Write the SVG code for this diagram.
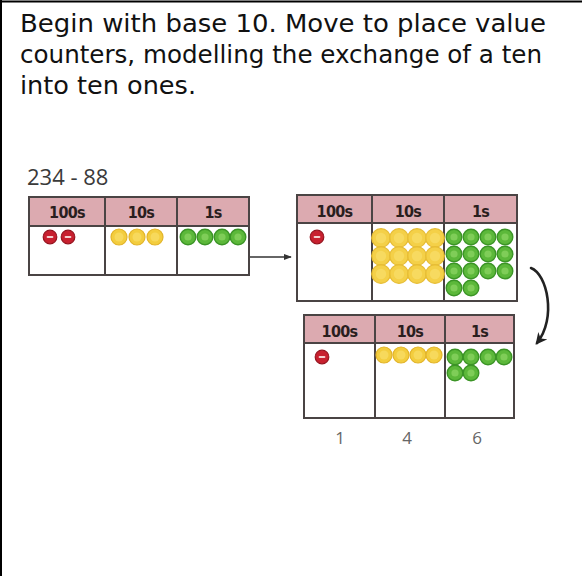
<svg xmlns="http://www.w3.org/2000/svg" xmlns:xlink="http://www.w3.org/1999/xlink" width="582" height="576" viewBox="0 0 582 576">
  <style>
    .intro { font-family: "DejaVu Sans Condensed", "DejaVu Sans", sans-serif; font-size: 25.5px; fill: #111; font-stretch: condensed; }
    .sum { font-family: "Open Sans", "Liberation Sans", sans-serif; font-size: 22px; fill: #3a3a3a; }
    .digit { font-family: "Open Sans", "Liberation Sans", sans-serif; font-size: 17px; fill: #666; text-anchor: middle; }
    .head { fill: #dcaab0; stroke: #4a4444; stroke-width: 2; }
    .body { fill: #ffffff; stroke: #4a4444; stroke-width: 2; }
    .rule { stroke: #4a4444; stroke-width: 2; fill: none; }
    .lab { font-family: "DejaVu Sans Condensed", "DejaVu Sans", sans-serif; font-weight: bold; font-size: 16px; fill: #2a1e1e; text-anchor: middle; letter-spacing: -0.7px; }
    .link { stroke: #333; stroke-width: 1.6; fill: none; }
    .swing { stroke: #222; stroke-width: 2.6; fill: none; stroke-linecap: round; }
  </style>
  <defs>
    <!-- place value counters, centred on 0,0 -->
    <g id="c-red">
      <circle r="6.8" fill="#c8202f" stroke="#961520" stroke-width="1.2"/>
      <rect x="-3.4" y="-1.1" width="6.8" height="2.2" rx="1" fill="#f4d0d0"/>
    </g>
    <g id="c-yel">
      <circle r="8" fill="#f3cd3e" stroke="#e2b42a" stroke-width="1.2"/>
      <circle r="4.5" fill="#f7d95c"/>
    </g>
    <g id="c-yelL">
      <circle r="9.3" fill="#f3cd3e" stroke="#e6bc34" stroke-width="1.2" fill-opacity="0.95"/>
      <circle r="5.2" fill="#f7da60"/>
    </g>
    <g id="c-grn">
      <circle r="7.8" fill="#5cb83a" stroke="#3b9426" stroke-width="1.4"/>
      <circle r="3.6" fill="#7fcd58"/>
    </g>
    <marker id="tip" viewBox="0 0 10 10" refX="9" refY="5" markerWidth="5" markerHeight="5" orient="auto" markerUnits="strokeWidth">
      <path d="M0,1 L10,5 L0,9 z" fill="#333"/>
    </marker>
    <marker id="tip2" viewBox="0 0 10 10" refX="8" refY="5" markerWidth="4.5" markerHeight="4.5" orient="auto" markerUnits="strokeWidth">
      <path d="M0,0 L10,5 L0,10 L3,5 z" fill="#222"/>
    </marker>
  </defs>

  <!-- frame -->
  <rect x="0" y="0" width="582" height="576" fill="#ffffff"/>
  <line x1="1" y1="0" x2="1" y2="576" stroke="#000" stroke-width="2"/>
  <line x1="0" y1="1.5" x2="582" y2="1.5" stroke="#000" stroke-width="2"/>

  <!-- intro text -->
  <g id="intro">
    <text class="intro" x="20" y="32" textLength="526" lengthAdjust="spacingAndGlyphs">Begin with base 10. Move to place value</text>
    <text class="intro" x="20" y="63" textLength="522" lengthAdjust="spacingAndGlyphs">counters, modelling the exchange of a ten</text>
    <text class="intro" x="20" y="94" textLength="176" lengthAdjust="spacingAndGlyphs">into ten ones.</text>
  </g>

  <text class="sum" x="27" y="185">234 - 88</text>

  <!-- chart 1: 234 -->
  <g id="chart-start">
    <rect class="body" x="29" y="197" width="220" height="78"/>
    <rect class="head" x="29" y="197" width="220" height="29"/>
    <line class="rule" x1="105" y1="197" x2="105" y2="275"/>
    <line class="rule" x1="177" y1="197" x2="177" y2="275"/>
    <text class="lab" x="67" y="218">100s</text>
    <text class="lab" x="141" y="218">10s</text>
    <text class="lab" x="213" y="218">1s</text>
    <use href="#c-red" x="50" y="237"/>
    <use href="#c-red" x="68" y="237"/>
    <use href="#c-yel" x="119" y="237"/>
    <use href="#c-yel" x="137" y="237"/>
    <use href="#c-yel" x="155" y="237"/>
    <use href="#c-grn" x="188" y="237"/>
    <use href="#c-grn" x="205" y="237"/>
    <use href="#c-grn" x="222" y="237"/>
    <use href="#c-grn" x="238" y="237"/>
  </g>

  <!-- chart 2: one ten exchanged for ten ones -->
  <g id="chart-exchange">
    <rect class="body" x="297" y="195" width="220" height="106"/>
    <rect class="head" x="297" y="195" width="220" height="28"/>
    <line class="rule" x1="372" y1="195" x2="372" y2="301"/>
    <line class="rule" x1="444" y1="195" x2="444" y2="301"/>
    <text class="lab" x="334.5" y="217">100s</text>
    <text class="lab" x="408" y="217">10s</text>
    <text class="lab" x="480.5" y="217">1s</text>
    <use href="#c-red" x="317" y="237"/>
    <g>
      <use href="#c-yelL" x="381" y="238"/><use href="#c-yelL" x="399" y="238"/><use href="#c-yelL" x="417" y="238"/><use href="#c-yelL" x="435" y="238"/>
      <use href="#c-yelL" x="381" y="256"/><use href="#c-yelL" x="399" y="256"/><use href="#c-yelL" x="417" y="256"/><use href="#c-yelL" x="435" y="256"/>
      <use href="#c-yelL" x="381" y="274"/><use href="#c-yelL" x="399" y="274"/><use href="#c-yelL" x="417" y="274"/><use href="#c-yelL" x="435" y="274"/>
    </g>
    <g>
      <use href="#c-grn" x="454" y="237"/><use href="#c-grn" x="471" y="237"/><use href="#c-grn" x="488" y="237"/><use href="#c-grn" x="505" y="237"/>
      <use href="#c-grn" x="454" y="254"/><use href="#c-grn" x="471" y="254"/><use href="#c-grn" x="488" y="254"/><use href="#c-grn" x="505" y="254"/>
      <use href="#c-grn" x="454" y="271"/><use href="#c-grn" x="471" y="271"/><use href="#c-grn" x="488" y="271"/><use href="#c-grn" x="505" y="271"/>
      <use href="#c-grn" x="454" y="288"/><use href="#c-grn" x="471" y="288"/>
    </g>
  </g>

  <!-- chart 3: result 146 -->
  <g id="chart-result">
    <rect class="body" x="304" y="315" width="210" height="103"/>
    <rect class="head" x="304" y="315" width="210" height="28"/>
    <line class="rule" x1="375" y1="315" x2="375" y2="418"/>
    <line class="rule" x1="445" y1="315" x2="445" y2="418"/>
    <text class="lab" x="339.5" y="337">100s</text>
    <text class="lab" x="410" y="337">10s</text>
    <text class="lab" x="479.5" y="337">1s</text>
    <use href="#c-red" x="322" y="357"/>
    <use href="#c-yel" x="384" y="355"/>
    <use href="#c-yel" x="401" y="355"/>
    <use href="#c-yel" x="418" y="355"/>
    <use href="#c-yel" x="434" y="355"/>
    <use href="#c-grn" x="455" y="357"/>
    <use href="#c-grn" x="471" y="357"/>
    <use href="#c-grn" x="488" y="357"/>
    <use href="#c-grn" x="504" y="357"/>
    <use href="#c-grn" x="455" y="373"/>
    <use href="#c-grn" x="471" y="373"/>
    <text class="digit" x="340" y="444">1</text>
    <text class="digit" x="407" y="444">4</text>
    <text class="digit" x="477" y="444">6</text>
  </g>

  <!-- connectors -->
  <g id="connectors">
    <line class="link" x1="250" y1="257" x2="291" y2="257" marker-end="url(#tip)"/>
    <path class="swing" d="M531,268 C547,274 557,318 537,343" marker-end="url(#tip2)"/>
  </g>
</svg>
